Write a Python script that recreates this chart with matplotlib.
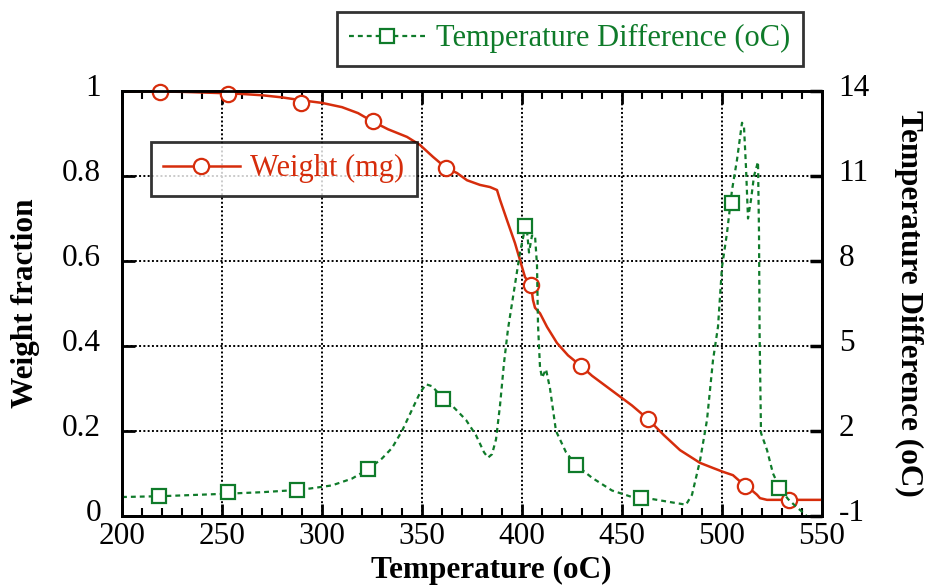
import matplotlib
matplotlib.use("Agg")
import matplotlib.pyplot as plt
import matplotlib.transforms as mtransforms
from matplotlib.ticker import MultipleLocator

# ---------------- data ----------------
weight_T = [200, 230, 250, 260, 270, 280, 290, 300, 310, 318, 325, 333, 342.5, 349, 355.5,
            362, 367.5, 372.5, 379, 384, 387.5, 389, 392.5, 396.5, 399, 401.5, 404.5,
            405.5, 406.5, 409, 412.5, 417.5, 423, 429.5, 435, 445, 455, 463, 471, 479,
            489, 495.5, 500.5, 505.5, 511.5, 515, 517.5, 519, 522.5, 533.5, 550]
weight_val = [1.0, 0.998, 0.995, 0.993, 0.99, 0.985, 0.978, 0.972, 0.962, 0.948, 0.929,
              0.91, 0.892, 0.873, 0.845, 0.819, 0.807, 0.79, 0.779, 0.774, 0.767, 0.744,
              0.696, 0.642, 0.602, 0.562, 0.544, 0.508, 0.49, 0.477, 0.445, 0.407,
              0.378, 0.353, 0.33, 0.295, 0.26, 0.228, 0.19, 0.155, 0.125, 0.113, 0.104,
              0.096, 0.071, 0.06, 0.05, 0.042, 0.038, 0.038, 0.038]
weight_marker_T = [219, 253, 289.5, 325.5, 362, 404.5, 429.5, 463, 511.5, 533.5]
weight_marker_val = [0.998, 0.993, 0.972, 0.929, 0.819, 0.544, 0.353, 0.228, 0.071, 0.038]

dT_T = [200, 220, 250, 270, 290, 305, 315, 323, 330, 335, 340, 345, 349, 352, 355, 360,
        365, 372, 377, 381, 383, 385, 387, 389, 391, 393, 395, 397, 399, 401, 402.5,
        403.5, 405, 406.5, 407.5, 408, 409, 410, 412, 414, 417, 422, 427, 435, 445, 455,
        465, 475, 482, 485, 489, 492.5, 495.5, 498, 500, 502.5, 505, 507.5, 510, 511,
        512, 513, 514.5, 516, 518, 518.5, 518.8, 519.5, 522.5, 525.5, 529, 533, 537.5,
        541.5, 544]
dT_val = [-0.33, -0.30, -0.22, -0.16, -0.07, 0.08, 0.32, 0.65, 1.03, 1.4, 2.0, 2.75, 3.35,
          3.65, 3.58, 3.2, 2.9, 2.39, 1.85, 1.25, 1.06, 1.18, 1.7, 2.9, 4.4, 5.6, 6.5,
          7.4, 8.3, 8.98, 9.05, 8.3, 8.9, 8.9, 7.85, 5.75, 4.25, 3.88, 4.18, 3.5, 2.0,
          1.25, 0.8, 0.35, -0.1, -0.33, -0.4, -0.52, -0.6, -0.25, 0.95, 2.39, 4.5, 5.68,
          7.79, 8.99, 10.5, 11.57, 12.88, 12.73, 11.3, 9.5, 10.16, 11.0, 11.5, 9.0, 5.45,
          1.93, 1.33, 0.5, -0.03, -0.4, -0.7, -0.93, -1.15]
dT_marker_T = [218.5, 253, 287.5, 323, 360.5, 401.5, 427, 459.5, 505, 528.5]
dT_marker_val = [-0.29, -0.15, -0.08, 0.66, 3.13, 9.24, 0.8, -0.36, 10.05, -0.01]

x_ticks = [200, 250, 300, 350, 400, 450, 500, 550]
y_ticks = [0, 0.2, 0.4, 0.6, 0.8, 1]
y_tick_labels = ["0", "0.2", "0.4", "0.6", "0.8", "1"]
y2_ticks = [-1, 2, 5, 8, 11, 14]
y2_tick_labels = ["-1", "2", "5", "8", "11", "14"]

# ---------------- style ----------------
RED = "#d62d0c"
GREEN = "#0f7b2a"
plt.rcParams["font.family"] = ["Liberation Serif", "DejaVu Serif"]
FS = 22.5

W, H = 929, 586
fig = plt.figure(figsize=(W / 100, H / 100), dpi=100)
ax = fig.add_axes([122 / W, 1 - 516 / H, 700 / W, 425 / H])
ax2 = ax.twinx()

ax.set_xlim(200, 550)
ax.set_ylim(0, 1)
ax2.set_ylim(-1, 14)

ax.set_xticks(x_ticks)
ax.set_yticks(y_ticks)
ax.set_yticklabels(y_tick_labels)
ax.xaxis.set_minor_locator(MultipleLocator(10))
ax2.set_yticks(y2_ticks)
ax2.set_yticklabels(y2_tick_labels)

ax.grid(True, which="major", color="black", linestyle=(0, (1, 1.2)), linewidth=1.4)

for a in (ax, ax2):
    for s in a.spines.values():
        s.set_linewidth(2)

ax.tick_params(axis="both", which="major", direction="in", length=9, width=2,
               labelsize=FS, top=True, right=False)
ax.tick_params(axis="x", which="major", pad=4)
ax.tick_params(axis="y", which="major", pad=15)
ax.tick_params(axis="x", which="minor", direction="in", length=6, width=1.5, top=True)
ax2.tick_params(axis="y", which="major", direction="in", length=9, width=2.5,
                labelsize=FS, pad=12)

# shift y tick labels slightly upward, as in the reference
up = mtransforms.ScaledTranslation(0, 6 / 100, fig.dpi_scale_trans)
for lab in ax.get_yticklabels() + ax2.get_yticklabels():
    lab.set_transform(lab.get_transform() + up)

# weight curve
ax.plot(weight_T, weight_val, color=RED, linewidth=1.8, zorder=3)
ax.plot(weight_marker_T, weight_marker_val, linestyle="none", marker="o",
        markersize=11, markerfacecolor="white", markeredgecolor=RED,
        markeredgewidth=1.6, zorder=4, clip_on=False)

# temperature difference
ax2.plot(dT_T, dT_val, color=GREEN, linewidth=1.6, linestyle=(0, (2.2, 1.8)), zorder=2)
ax2.plot(dT_marker_T, dT_marker_val, linestyle="none", marker="s",
         markersize=10, markerfacecolor="white", markeredgecolor=GREEN,
         markeredgewidth=1.6, zorder=3)

ax.set_xlabel("Temperature (oC)", fontsize=FS, fontweight="bold")
ax.xaxis.set_label_coords(0.527, -0.093)
ax.set_ylabel("Weight fraction", fontsize=FS, fontweight="bold", labelpad=16)
ax2.set_ylabel("Temperature Difference (oC)", fontsize=FS, fontweight="bold",
               rotation=270, labelpad=38)

# legends (handles)
h1, = ax.plot([], [], color=RED, linewidth=1.8, marker="o", markersize=11,
              markerfacecolor="white", markeredgecolor=RED, markeredgewidth=1.6)
h2, = ax.plot([], [], color=GREEN, linewidth=1.6, linestyle=(0, (2.2, 1.8)), marker="s",
              markersize=10, markerfacecolor="white", markeredgecolor=GREEN,
              markeredgewidth=1.6)

LFS = 22
leg1 = fig.legend([h1], ["Weight (mg)"], loc="upper left",
                  bbox_to_anchor=(151 / W, 1 - 142 / H), bbox_transform=fig.transFigure,
                  borderaxespad=0, fontsize=LFS, frameon=True, fancybox=False,
                  edgecolor="black", handlelength=2.5, borderpad=0.4, handletextpad=0.35,
                  labelcolor=RED)
leg1.get_frame().set_linewidth(2)
leg2 = fig.legend([h2], ["Temperature Difference (oC)"], loc="upper left",
                  bbox_to_anchor=(337 / W, 1 - 12 / H), bbox_transform=fig.transFigure,
                  borderaxespad=0, fontsize=LFS, frameon=True, fancybox=False,
                  edgecolor="black", handlelength=2.5, borderpad=0.4, handletextpad=0.35,
                  labelcolor=GREEN)
leg2.get_frame().set_linewidth(2)

fig.savefig("out.png", dpi=100)
